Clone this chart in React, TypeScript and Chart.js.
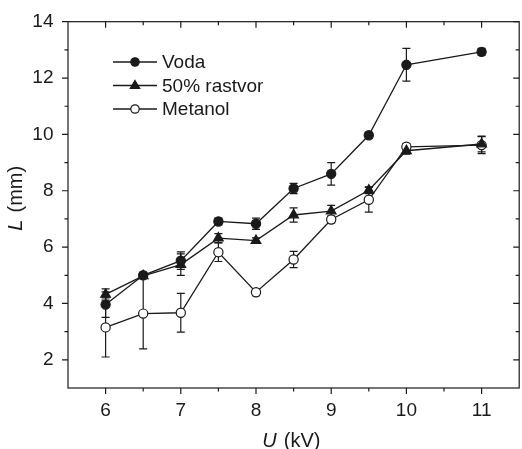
import React, { useEffect, useRef } from "react";
import { Chart, registerables } from "chart.js";

Chart.register(...registerables);

// ---- data ----
const U_KV = [6, 6.5, 7, 7.5, 8, 8.5, 9, 9.5, 10, 11];
const VODA = [3.96, 5.0, 5.52, 6.91, 6.83, 8.08, 8.6, 9.97, 12.47, 12.93];
const VODA_ERR = [0.45, 0.1, 0.31, 0.12, 0.2, 0.18, 0.4, 0.1, 0.58, 0.12];
const RASTVOR = [4.32, 4.98, 5.38, 6.32, 6.23, 7.14, 7.28, 8.02, 9.42, 9.66];
const RASTVOR_ERR = [0.2, 0.1, 0.38, 0.16, 0.1, 0.25, 0.2, 0.12, 0.12, 0.28];
const METANOL = [3.15, 3.64, 3.67, 5.82, 4.4, 5.56, 6.98, 7.68, 9.56, 9.62];
const METANOL_ERR = [1.05, 1.25, 0.69, 0.33, 0.12, 0.29, 0.12, 0.44, 0.12, 0.3];

const SERIES_LABELS = ["Voda", "50% rastvor", "Metanol"];
const X_MAJOR = [6, 7, 8, 9, 10, 11];
const X_MINOR = [6.5, 7.5, 8.5, 9.5, 10.5];
const Y_MAJOR = [2, 4, 6, 8, 10, 12, 14];
const Y_MINOR = [3, 5, 7, 9, 11, 13];
const X_TITLE = ["U", " (kV)"];
const Y_TITLE = ["L", " (mm)"];

const INK = "#1a1a1a";
const FONT = "'Liberation Sans', Arial, Helvetica, sans-serif";

const ERRS = [VODA_ERR, RASTVOR_ERR, METANOL_ERR];

const framePlugin = {
  id: "frame",
  beforeDatasetsDraw(chart: any) {
    const { ctx, chartArea: a, scales } = chart;
    const x = scales.x;
    const y = scales.y;
    ctx.save();
    ctx.strokeStyle = INK;
    ctx.lineWidth = 1.2;
    ctx.strokeRect(a.left, a.top, a.right - a.left, a.bottom - a.top);
    ctx.beginPath();
    const seg = (x1: number, y1: number, x2: number, y2: number) => {
      ctx.moveTo(x1, y1);
      ctx.lineTo(x2, y2);
    };
    X_MAJOR.forEach((v) => {
      const p = x.getPixelForValue(v);
      seg(p, a.bottom, p, a.bottom + 6);
      seg(p, a.top, p, a.top + 6);
    });
    X_MINOR.forEach((v) => {
      const p = x.getPixelForValue(v);
      seg(p, a.bottom, p, a.bottom + 3.5);
      seg(p, a.top, p, a.top + 3.5);
    });
    Y_MAJOR.forEach((v) => {
      const p = y.getPixelForValue(v);
      seg(a.left - 6, p, a.left, p);
      seg(a.right - 6, p, a.right, p);
    });
    Y_MINOR.forEach((v) => {
      const p = y.getPixelForValue(v);
      seg(a.left - 3.5, p, a.left, p);
      seg(a.right - 3.5, p, a.right, p);
    });
    ctx.stroke();

    // error bars
    chart.data.datasets.forEach((ds: any, i: number) => {
      const errs = ERRS[i];
      ctx.beginPath();
      ds.data.forEach((pt: any, j: number) => {
        const e = errs[j];
        const px = x.getPixelForValue(pt.x);
        const top = y.getPixelForValue(pt.y + e);
        const bot = y.getPixelForValue(pt.y - e);
        seg(px, top, px, bot);
        seg(px - 4, top, px + 4, top);
        seg(px - 4, bot, px + 4, bot);
      });
      ctx.stroke();
    });
    ctx.restore();
  },
  afterDraw(chart: any) {
    const { ctx, chartArea: a } = chart;
    ctx.save();
    ctx.fillStyle = INK;
    ctx.strokeStyle = INK;

    // axis titles
    const titleSize = 20;
    const drawTitle = (parts: string[], cx: number, cy: number, rot: number) => {
      ctx.save();
      ctx.translate(cx, cy);
      ctx.rotate(rot);
      ctx.textBaseline = "alphabetic";
      ctx.textAlign = "left";
      ctx.font = `italic ${titleSize}px ${FONT}`;
      const w0 = ctx.measureText(parts[0]).width;
      ctx.font = `${titleSize}px ${FONT}`;
      const w1 = ctx.measureText(parts[1]).width;
      const start = -(w0 + w1) / 2;
      ctx.font = `italic ${titleSize}px ${FONT}`;
      ctx.fillText(parts[0], start, 0);
      ctx.font = `${titleSize}px ${FONT}`;
      ctx.fillText(parts[1], start + w0 + 1.5, 0);
      ctx.restore();
    };
    drawTitle(X_TITLE, (a.left + a.right) / 2 - 3, 446.5, 0);
    drawTitle(Y_TITLE, 22, 199, -Math.PI / 2);

    // legend
    const lx0 = 113;
    const lx1 = 157;
    const rows = [62, 85.5, 109];
    chart.data.datasets.forEach((ds: any, i: number) => {
      const ry = rows[i];
      ctx.lineWidth = 1.3;
      ctx.beginPath();
      ctx.moveTo(lx0, ry);
      ctx.lineTo(lx1, ry);
      ctx.stroke();
      const cx = (lx0 + lx1) / 2;
      ctx.lineWidth = 1.2;
      ctx.fillStyle = ds.pointBackgroundColor;
      ctx.beginPath();
      if (ds.pointStyle === "triangle") {
        const r = 5;
        ctx.moveTo(cx, ry - r);
        ctx.lineTo(cx + r * 0.95, ry + r * 0.6);
        ctx.lineTo(cx - r * 0.95, ry + r * 0.6);
        ctx.closePath();
      } else {
        ctx.arc(cx, ry, 4.2, 0, Math.PI * 2);
      }
      ctx.fill();
      ctx.stroke();
      ctx.fillStyle = INK;
      ctx.font = `19px ${FONT}`;
      ctx.textBaseline = "middle";
      ctx.textAlign = "left";
      ctx.fillText(ds.label, 162, ry + 1);
    });
    ctx.restore();
  },
};

function makeSeries(label: string, ys: number[], style: string, fill: string, radius: number) {
  return {
    label,
    data: U_KV.map((u, i) => ({ x: u, y: ys[i] })),
    borderColor: INK,
    backgroundColor: fill,
    pointBackgroundColor: fill,
    pointBorderColor: INK,
    pointStyle: style,
    pointRadius: radius,
    pointBorderWidth: 1.2,
    borderWidth: 1.3,
    tension: 0,
    fill: false,
  };
}

export default function App() {
  const ref = useRef<HTMLCanvasElement | null>(null);

  useEffect(() => {
    if (!ref.current) return;
    const chart = new Chart(ref.current, {
      type: "line",
      data: {
        datasets: [
          makeSeries(SERIES_LABELS[0], VODA, "circle", INK, 4.6),
          makeSeries(SERIES_LABELS[1], RASTVOR, "triangle", INK, 5.6),
          makeSeries(SERIES_LABELS[2], METANOL, "circle", "#ffffff", 4.6),
        ] as any,
      },
      options: {
        responsive: false,
        animation: false,
        layout: { padding: { left: 0, right: 1.3, top: 21.7, bottom: 0 } },
        plugins: {
          legend: { display: false },
          tooltip: { enabled: false },
        },
        scales: {
          x: {
            type: "linear",
            min: 5.5,
            max: 11.5,
            grid: { display: false, drawTicks: false },
            border: { display: false },
            afterBuildTicks: (s: any) => {
              s.ticks = X_MAJOR.map((v) => ({ value: v }));
            },
            afterFit: (s: any) => {
              s.height = 61;
              s.paddingLeft = 0;
              s.paddingRight = 0;
            },
            ticks: {
              color: INK,
              font: { family: FONT, size: 19 },
              padding: 11,
              maxRotation: 0,
              autoSkip: false,
              callback: (v: any) => String(v),
            },
          },
          y: {
            type: "linear",
            min: 1,
            max: 14,
            grid: { display: false, drawTicks: false },
            border: { display: false },
            afterBuildTicks: (s: any) => {
              s.ticks = Y_MAJOR.map((v) => ({ value: v }));
            },
            afterFit: (s: any) => {
              s.width = 68;
              s.paddingTop = 0;
              s.paddingBottom = 0;
            },
            ticks: {
              color: INK,
              font: { family: FONT, size: 19 },
              padding: 14.5,
              autoSkip: false,
              callback: (v: any) => String(v),
            },
          },
        },
      } as any,
      plugins: [framePlugin],
    });
    return () => chart.destroy();
  }, []);

  return (
    <div
      style={{
        position: "fixed",
        left: 0,
        top: 0,
        width: 522,
        height: 449,
        overflow: "hidden",
        background: "#ffffff",
      }}
    >
      <canvas ref={ref} width={526} height={449} style={{ width: 526, height: 449, display: "block" }} />
    </div>
  );
}
